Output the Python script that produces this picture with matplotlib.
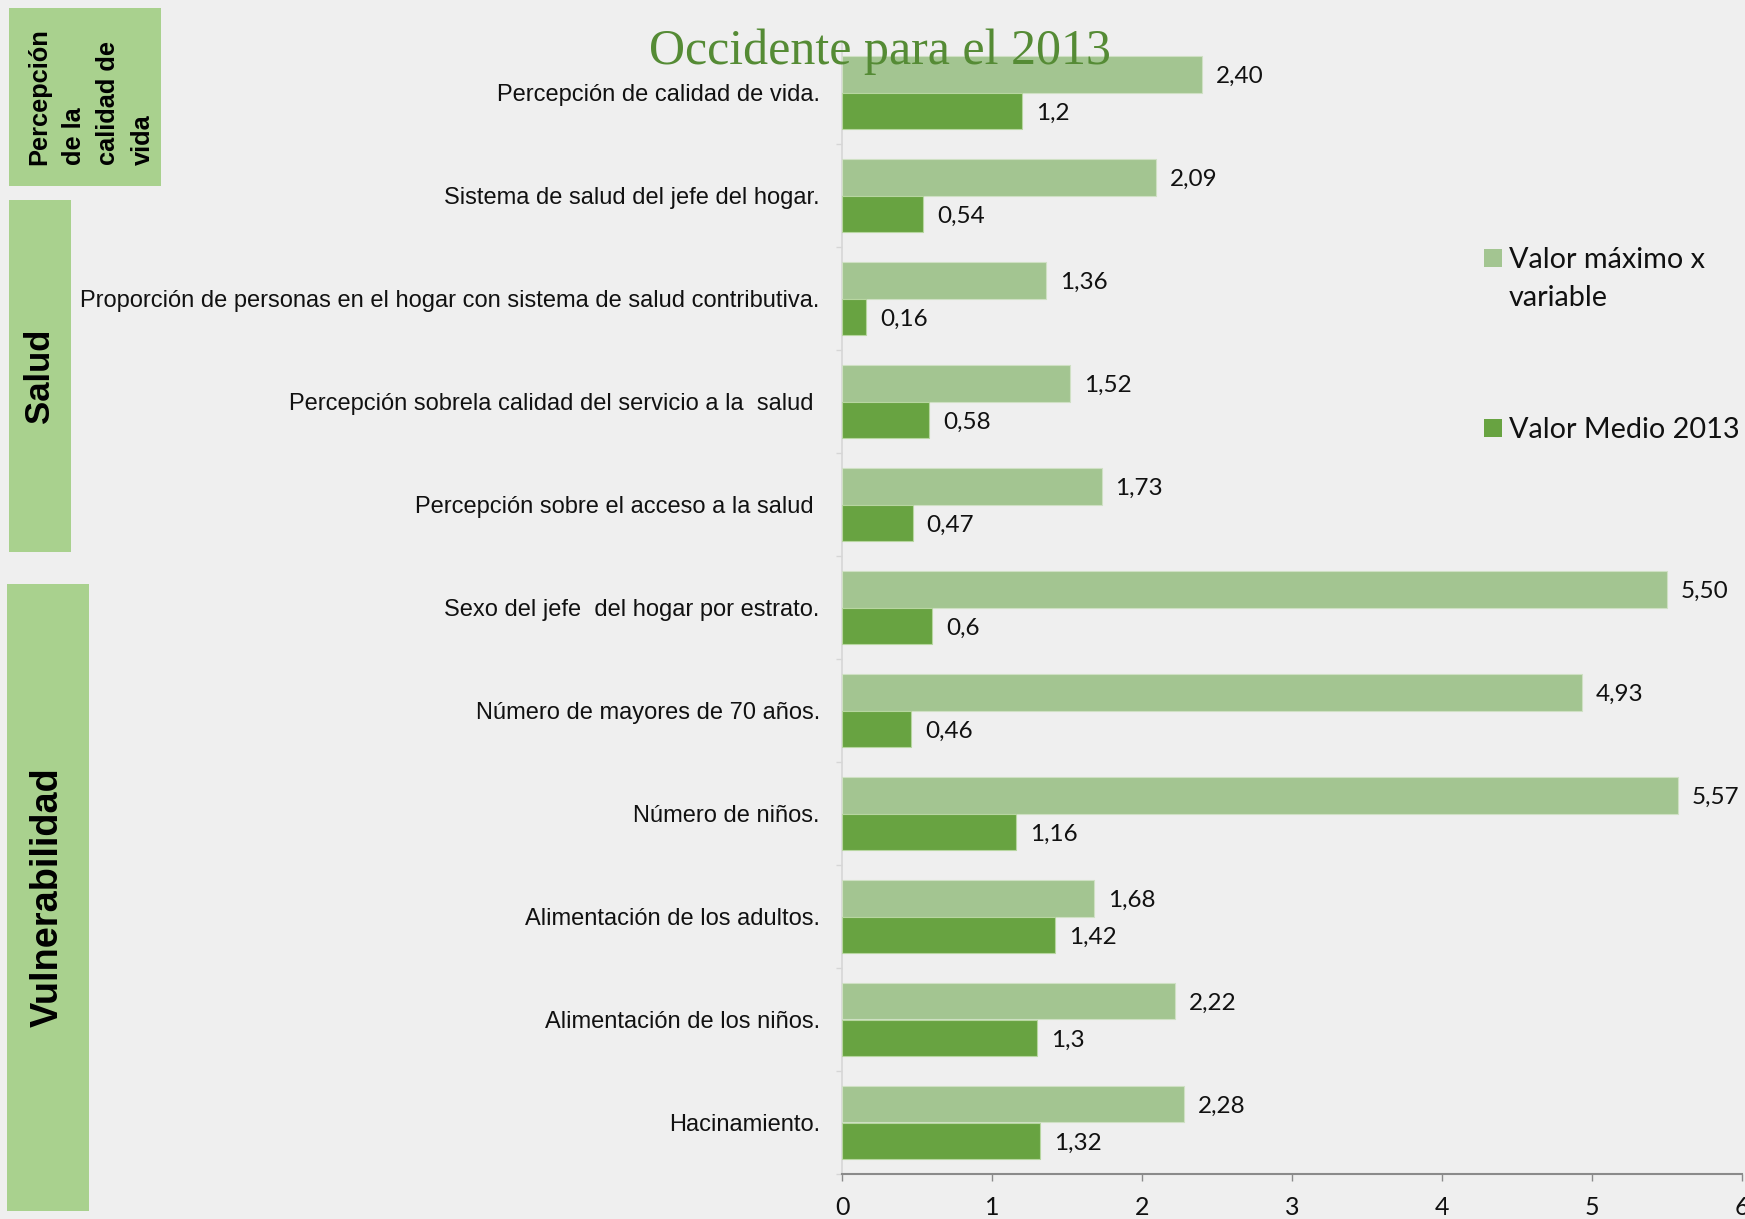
import numpy as np
import matplotlib
matplotlib.use("Agg")
import matplotlib.pyplot as plt
from matplotlib.patches import Rectangle

# ── Colour palette ────────────────────────────────────────────────────────────
BG          = "#efefef"
LIGHT_GREEN = "#a3c591"
DARK_GREEN  = "#68a341"
BOX_GREEN   = "#a9d18e"
TITLE_GREEN = "#558b35"
AXIS_GREY   = "#8a8a8a"
SPINE_GREY  = "#d6d6d6"

# ── Data ─────────────────────────────────────────────────────────────────────
categories = [
    "Percepción de calidad de vida.",
    "Sistema de salud del jefe del hogar.",
    "Proporción de personas en el hogar con sistema de salud contributiva.",
    "Percepción sobrela calidad del servicio a la  salud ",
    "Percepción sobre el acceso a la salud ",
    "Sexo del jefe  del hogar por estrato.",
    "Número de mayores de 70 años.",
    "Número de niños.",
    "Alimentación de los adultos.",
    "Alimentación de los niños.",
    "Hacinamiento.",
]
valor_maximo = [2.40, 2.09, 1.36, 1.52, 1.73, 5.50, 4.93, 5.57, 1.68, 2.22, 2.28]
valor_medio = [1.2, 0.54, 0.16, 0.58, 0.47, 0.6, 0.46, 1.16, 1.42, 1.3, 1.32]
x_ticks = [0, 1, 2, 3, 4, 5, 6]

series_names = ["Valor máximo x\nvariable", "Valor Medio 2013"]

# (label, x0, y0, x1, y1 in pixels from top-left, font size, line spacing, text x shift)
groups = [
    ("Percepción\nde la\ncalidad de\nvida", 9, 8, 161, 186, 18.3, 1.55, 6),
    ("Salud", 9, 200, 71, 552, 25, 1.2, 0),
    ("Vulnerabilidad", 7, 584, 89, 1211, 27.3, 1.2, 0),
]

W, H = 1745, 1219
fig = plt.figure(figsize=(W / 100, H / 100), dpi=100)
fig.patch.set_facecolor(BG)


def px_box(x0, y0, x1, y1):
    return [x0 / W, 1 - y1 / H, (x1 - x0) / W, (y1 - y0) / H]


ax = fig.add_axes(px_box(842, 41, 1742, 1174))
ax.set_facecolor(BG)

n = len(categories)
y = np.arange(n)
h = 0.356

ax.barh(y - h / 2, valor_maximo, height=h, color=LIGHT_GREEN,
        edgecolor="#cfe0c4", linewidth=0.8, zorder=3)
ax.barh(y + h / 2, valor_medio, height=h, color=DARK_GREEN,
        edgecolor="#b7d6a0", linewidth=0.8, zorder=3)

label_font = dict(family=["Lato", "DejaVu Sans"], fontsize=17.5, color="#111111")
for yi, v in zip(y, valor_maximo):
    ax.annotate(f"{v:.2f}".replace(".", ","), (v, yi - h / 2),
                xytext=(10, -1.5), textcoords="offset points",
                va="center", ha="left", **label_font)
for yi, v in zip(y, valor_medio):
    ax.annotate(f"{v:g}".replace(".", ","), (v, yi + h / 2),
                xytext=(10, -1.5), textcoords="offset points",
                va="center", ha="left", **label_font)

ax.set_xlim(0, 6)
ax.set_ylim(n - 0.5, -0.5)

ax.set_xticks(x_ticks)
ax.set_xticklabels([str(t) for t in x_ticks], family=["Lato", "DejaVu Sans"],
                   fontsize=18, color="#111111")
ax.tick_params(axis="x", length=5, width=1, color=AXIS_GREY, pad=11)

ax.set_yticks(y)
ax.set_yticklabels(categories, family=["Liberation Sans", "DejaVu Sans"],
                   fontsize=17, color="#111111")
ax.set_yticks(np.arange(n + 1) - 0.5, minor=True)
ax.tick_params(axis="y", which="major", length=0, pad=16)
ax.tick_params(axis="y", which="minor", length=4, width=1, color=SPINE_GREY)

for side in ("top", "right"):
    ax.spines[side].set_visible(False)
ax.spines["bottom"].set_color(AXIS_GREY)
ax.spines["bottom"].set_linewidth(1.5)
ax.spines["left"].set_color(SPINE_GREY)
ax.spines["left"].set_linewidth(1.2)

# title
fig.text(880 / W, 1 - 52 / H, "Occidente para el 2013",
         family=["Liberation Serif", "DejaVu Serif"], fontsize=36,
         color=TITLE_GREEN, ha="center", va="center", zorder=5)

# legend drawn by hand: square + text
legend_rows = [(series_names[0], LIGHT_GREEN, 258), (series_names[1], DARK_GREEN, 428)]
sq = 18
for text, color, yc in legend_rows:
    fig.patches.append(Rectangle((1484 / W, 1 - (yc + sq / 2) / H), sq / W, sq / H,
                                 transform=fig.transFigure, facecolor=color,
                                 edgecolor="none"))
    fig.text(1509 / W, 1 - (yc - 11) / H, text, family=["Lato", "DejaVu Sans"],
             fontsize=20.8, color="#111111", ha="left", va="top", linespacing=1.55)

# group boxes on the left
for text, x0, y0, x1, y1, fs, ls, dx in groups:
    fig.patches.append(Rectangle((x0 / W, 1 - y1 / H), (x1 - x0) / W, (y1 - y0) / H,
                                 transform=fig.transFigure, facecolor=BOX_GREEN,
                                 edgecolor="none"))
    fig.text(((x0 + x1) / 2 + dx) / W, 1 - (y0 + y1) / 2 / H, text,
             family=["Liberation Sans", "DejaVu Sans"], fontweight="bold",
             fontsize=fs, rotation=90, ha="center", va="center",
             multialignment="left", linespacing=ls, color="#000000")

fig.savefig("out.png", dpi=100, facecolor=fig.get_facecolor())
